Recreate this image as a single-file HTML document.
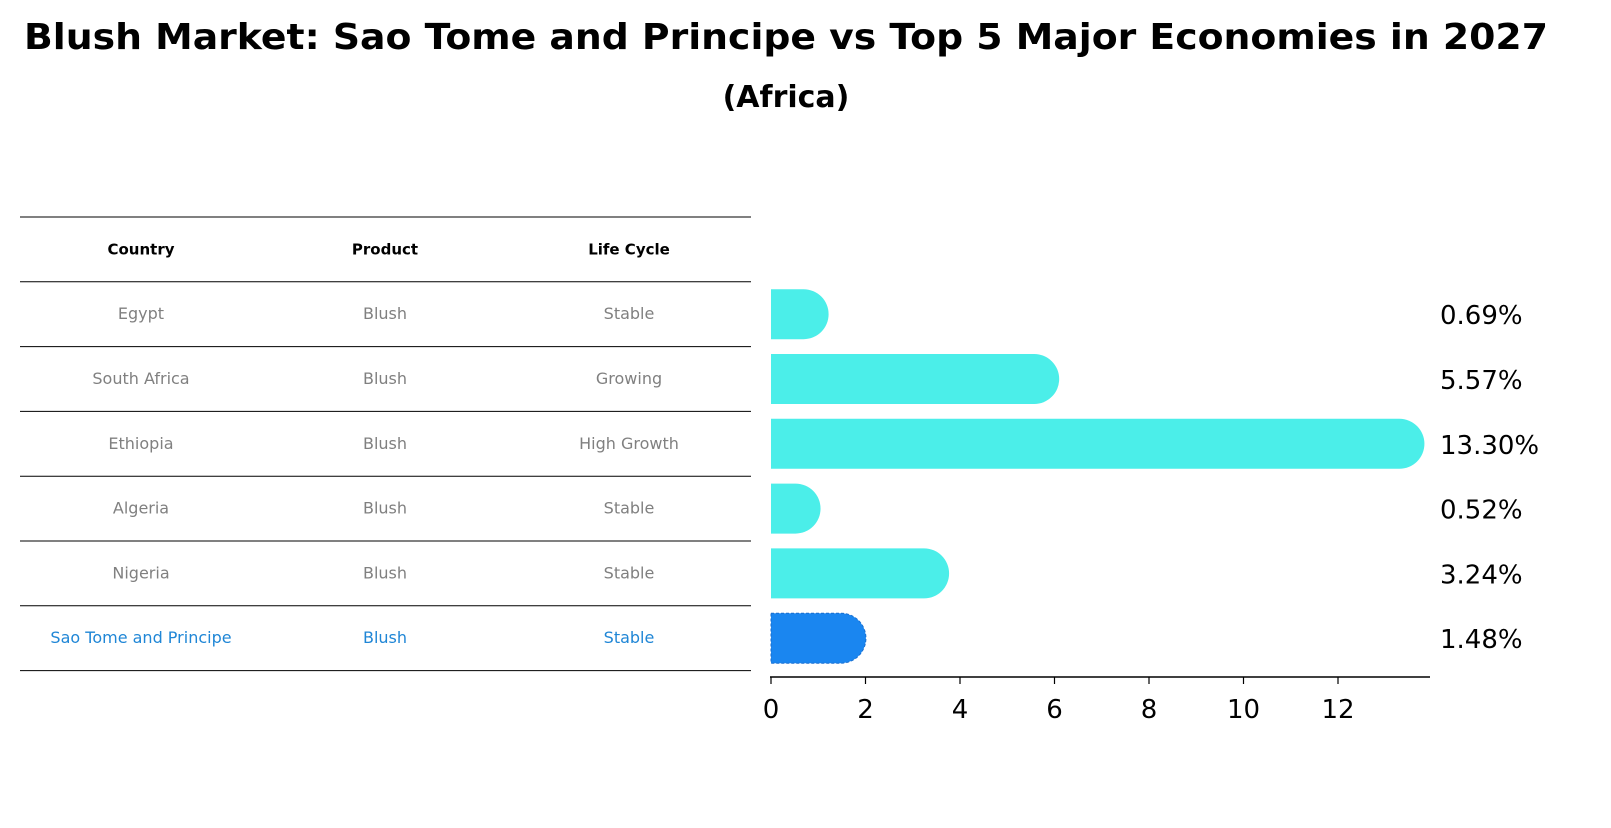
<!DOCTYPE html>
<html><head><meta charset="utf-8">
<style>
body{margin:0;background:#fff;font-family:"Liberation Sans","DejaVu Sans",sans-serif;}
svg text{font-family:"DejaVu Sans","Liberation Sans",sans-serif;}
</style></head>
<body>
<svg width="1611" height="823" xmlns="http://www.w3.org/2000/svg" id="chart">
<text x="786" y="49" text-anchor="middle" font-size="36" font-weight="bold" textLength="1524" lengthAdjust="spacingAndGlyphs">Blush Market: Sao Tome and Principe vs Top 5 Major Economies in 2027</text>
<text x="786" y="107" text-anchor="middle" font-size="30" font-weight="bold">(Africa)</text>
<g id="table"></g>
<g id="bars"></g>
</svg>
<script>
const countries=["Egypt","South Africa","Ethiopia","Algeria","Nigeria","Sao Tome and Principe"];
const products=["Blush","Blush","Blush","Blush","Blush","Blush"];
const lifeCycles=["Stable","Growing","High Growth","Stable","Stable","Stable"];
const values=[0.69,5.57,13.30,0.52,3.24,1.48];
const valueLabels=["0.69%","5.57%","13.30%","0.52%","3.24%","1.48%"];
const xTicks=[0,2,4,6,8,10,12];

const NS="http://www.w3.org/2000/svg";
function mk(tag,attrs,parent){const e=document.createElementNS(NS,tag);for(const k in attrs)e.setAttribute(k,attrs[k]);parent.appendChild(e);return e;}
const table=document.getElementById('table');
const bars=document.getElementById('bars');
const rowTop=217,rowH=64.8,colX=[141,385,629];
const x=v=>771+v*47.25;
const yC=i=>rowTop+rowH*(i+1)+rowH/2;
for(let i=0;i<=countries.length+1;i++){
  const l=mk('line',{x1:20,x2:751,y1:rowTop+i*rowH,y2:rowTop+i*rowH,stroke:'#000','stroke-width':1},table);
  
  
}
["Country","Product","Life Cycle"].forEach((h,j)=>{
  const t=mk('text',{x:colX[j],y:rowTop+rowH/2+5,'text-anchor':'middle','font-size':15,'font-weight':'bold'},table);
  t.textContent=h;
  
  
});
countries.forEach((c,i)=>{
  const hl=i===countries.length-1;
  const col=hl?'#1f86d6':'#808080';
  [c,products[i],lifeCycles[i]].forEach((s,j)=>{
    const t=mk('text',{x:colX[j],y:yC(i)+5,'text-anchor':'middle','font-size':16,fill:col},table);
    t.textContent=s;
    
    
  });
  const yc=yC(i),h=50,r=25,xe=x(values[i]);
  const p=mk('path',{d:`M${x(0)},${yc-h/2} H${xe} A${r},${r} 0 0 1 ${xe},${yc+h/2} H${x(0)} Z`,fill:hl?'#1a86f0':'#4beee9',stroke:hl?'#1a6fd0':'none','stroke-dasharray':hl?'3,2':'none'},bars);
  
  
  const vt=mk('text',{x:1440,y:yc+10,'font-size':26},bars);
  vt.textContent=valueLabels[i];
  
  
});
const ax=mk('line',{x1:770,x2:1430,y1:677,y2:677,stroke:'#000','stroke-width':1.5},bars);


xTicks.forEach(t=>{
  const tk=mk('line',{x1:x(t),x2:x(t),y1:677,y2:684,stroke:'#000','stroke-width':1.2},bars);
  
  
  const tl=mk('text',{x:x(t),y:718,'text-anchor':'middle','font-size':26},bars);
  tl.textContent=t;
  
  
});
</script>
</body></html>
